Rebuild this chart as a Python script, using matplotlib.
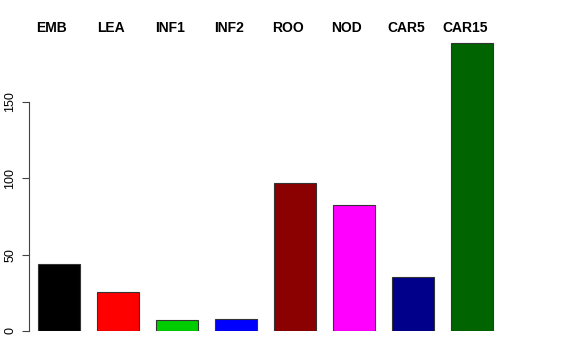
import matplotlib
matplotlib.use("Agg")
import matplotlib.pyplot as plt
import matplotlib.transforms as mtransforms

plt.rcParams['font.family'] = ['Liberation Sans', 'DejaVu Sans']

tissues = ["EMB", "LEA", "INF1", "INF2", "ROO", "NOD", "CAR5", "CAR15"]
counts = [44, 25.5, 7, 8, 97, 82.5, 35.5, 188.5]
colors = ["#000000", "#FF0000", "#00CD00", "#0000FF",
          "#8B0000", "#FF00FF", "#00008B", "#006400"]
yticks = [0, 50, 100, 150]


def main():
    fig = plt.figure(figsize=(5.76, 3.6), dpi=100)
    ax = fig.add_axes([20 / 576, 1 - 331 / 360, 500 / 576, (331 - 32) / 360])

    pos = list(range(len(tissues)))
    ax.bar(pos, counts, width=0.71, color=colors, edgecolor="#333333", linewidth=0.8)

    ax.set_xlim((20 - 59) / 59.0, (520 - 59) / 59.0)
    ax.set_ylim(0, 299 / 1.5267)

    for s in ["top", "right", "bottom"]:
        ax.spines[s].set_visible(False)
    ax.spines["left"].set_position(("data", (29 - 59) / 59.0))
    ax.spines["left"].set_bounds(0, 150)
    ax.spines["left"].set_color("#444444")
    ax.set_xticks([])
    ax.set_yticks(yticks)
    ax.tick_params(axis="y", length=5, color="#444444", labelsize=9, pad=4)
    for lab in ax.get_yticklabels():
        lab.set_rotation(90)
        lab.set_va("center")

    trans = mtransforms.blended_transform_factory(ax.transData, fig.transFigure)
    for p, name in zip(pos, tissues):
        ax.text(p - 0.12, 1 - 28 / 360.0, name, transform=trans, ha="center",
                va="center", fontsize=10, fontweight="bold")

    fig.savefig("out.png", dpi=100)


if __name__ == '__main__':
    main()
